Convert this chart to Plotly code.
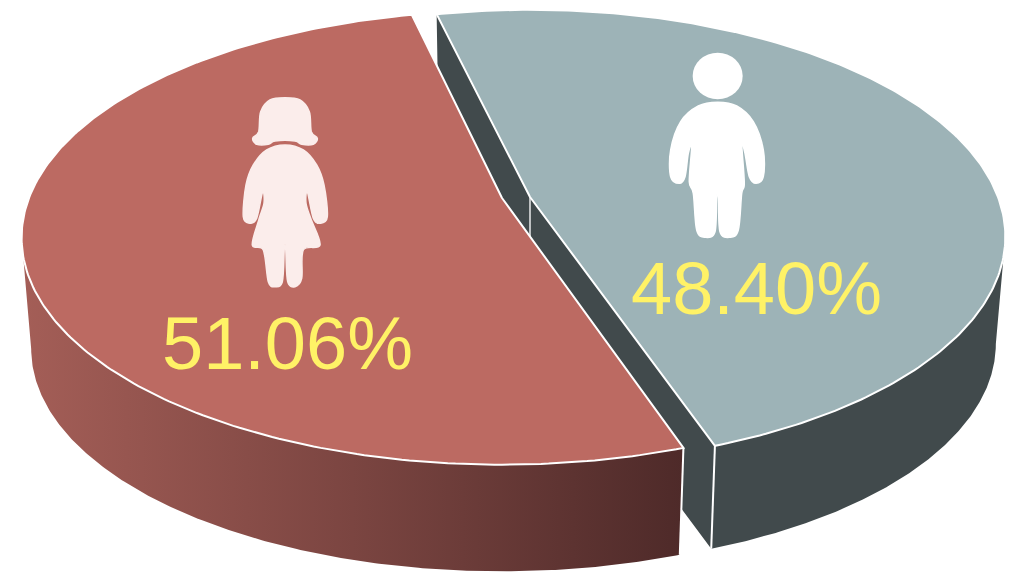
import numpy as np
import plotly.graph_objects as go

# ---- chart data ----
labels = ["Female", "Male"]
shares = [51.06, 48.40]
share_text = ["51.06%", "48.40%"]
face_colors = ["#BC6A62", "#9DB3B7"]

# ---- pseudo-3D projection ----
K, B, S = 0.175, 220, 0.98
FRAME_W, FRAME_H = 1020, 573

def project(theta, c, depth=0):
    """Map polar disc coordinates to the page, theta in degrees from the top, clockwise."""
    cx, cy, A, drop = c
    t = np.radians(theta)
    X, Y = np.sin(t), np.cos(t)
    w = 1 + K * Y
    sx, sy = A * X / w, -B * Y / w
    if depth:
        return cx + S * sx, cy + drop + S * sy
    return cx + sx, cy + sy

def arc(a0, a1, c, depth=0, n=240):
    return project(np.linspace(a0, a1, n), c, depth)

# slice angles come from the shares (clockwise from the top);
# the female slice also takes up the unlabelled remainder of the circle
deg = [v * 3.6 for v in shares]
remainder = 360 - sum(deg)
male_start = -13.5
male_end = male_start + deg[1]
female_end = -12.9
female_start = female_end - deg[0] - remainder
male_c = (530, 197, 468, 108)
female_c = (502, 198, 473, 112)
tangent = np.degrees(np.arcsin(K)) + 90   # silhouette angle

fig = go.Figure()

def poly(x, y, **kw):
    fig.add_trace(go.Scatter(x=list(x), y=list(y), mode="lines", fill="toself",
                             hoverinfo="skip", showlegend=False, **kw))

WALL = "#414A4C"
# male walls
c = male_c
cx, cy = c[0], c[1]
tx, ty = arc(male_start, male_end, c)
mx0, my0 = project(male_start, c)
mb0x, mb0y = project(male_start, c, 1)
mx1, my1 = project(male_end, c)
mb1x, mb1y = project(male_end, c, 1)
ctrb = (cx, cy + c[3])
poly([mx0, cx, mx1, mb1x, ctrb[0], mb0x, mx0], [my0, cy, my1, mb1y, ctrb[1], mb0y, my0],
     fillcolor=WALL, line=dict(color=WALL, width=0))
fx, fy = arc(tangent, male_end, c)
gx, gy = arc(tangent, male_end, c, 1)
poly(np.r_[fx, gx[::-1]], np.r_[fy, gy[::-1]], fillcolor=WALL, line=dict(color=WALL, width=0))
fig.add_trace(go.Scatter(x=[cx, ctrb[0]], y=[cy, ctrb[1]], mode="lines", showlegend=False,
                         hoverinfo="skip", line=dict(color="#E8EAEA", width=1.5)))
fig.add_trace(go.Scatter(x=[mx1, mb1x], y=[my1, mb1y], mode="lines", showlegend=False,
                         hoverinfo="skip", line=dict(color="white", width=2)))
poly(np.r_[cx, tx, cx], np.r_[cy, ty, cy], fillcolor=face_colors[1],
     line=dict(color="white", width=2))

# female walls
c = female_c
cx, cy = c[0], c[1]
a_end = female_start  # end of the slice at the front
fx, fy = arc(-tangent, a_end, c)
gx, gy = arc(-tangent, a_end, c, 1)
fig.add_trace(go.Scatter(
    x=list(np.r_[fx, gx[::-1], fx[0]]), y=list(np.r_[fy, gy[::-1], fy[0]]), mode="lines",
    fill="toself", hoverinfo="skip", showlegend=False, line=dict(width=0, color="#A05C55"),
    fillgradient=dict(type="horizontal",
                      colorscale=[[0, "#A45E57"], [0.5, "#7B4541"], [1, "#4E2A29"]])))
ex, ey = project(a_end, c)
ebx, eby = project(a_end, c, 1)
fig.add_trace(go.Scatter(x=[ex, ebx], y=[ey, eby], mode="lines", showlegend=False,
                         hoverinfo="skip", line=dict(color="white", width=2)))
tx, ty = arc(female_start, female_end, c)
poly(np.r_[cx, tx, cx], np.r_[cy, ty, cy], fillcolor=face_colors[0],
     line=dict(color="white", width=2))

# ---- person icons (decoration) ----
def smooth_path(pts, ox, oy):
    p = np.array(pts, float) / 3 + [ox, oy]
    n = len(p)
    d = f"M{p[0][0]:.1f},{p[0][1]:.1f}"
    for i in range(n):
        p0, p1, p2, p3 = p[i - 1], p[i], p[(i + 1) % n], p[(i + 2) % n]
        c1 = p1 + (p2 - p0) / 6
        c2 = p2 - (p3 - p1) / 6
        d += f"C{c1[0]:.1f},{c1[1]:.1f} {c2[0]:.1f},{c2[1]:.1f} {p2[0]:.1f},{p2[1]:.1f}"
    return d + "Z"

GIRL = "#FBEDEB"
girl_hair = [(195, 38), (240, 45), (268, 80), (274, 140), (292, 160), (280, 178), (245, 178), (225, 168),
             (165, 168), (145, 178), (110, 178), (98, 160), (116, 140), (122, 80), (150, 45)]
girl_body = [(195, 180), (250, 195), (290, 240), (312, 300), (322, 395), (300, 415), (280, 400), (262, 320),
             (258, 355), (272, 400), (300, 480), (250, 495), (245, 580), (225, 605), (203, 590), (197, 490),
             (193, 490), (187, 590), (165, 605), (145, 590), (130, 495), (97, 480), (118, 400), (132, 355),
             (128, 320), (110, 400), (90, 415), (70, 395), (78, 300), (100, 240), (140, 195)]
boy_body = [(203, 187), (260, 198), (310, 245), (340, 330), (340, 410), (318, 430), (298, 410), (285, 340),
            (275, 310), (283, 430), (275, 460), (265, 570), (240, 592), (210, 575), (205, 470), (200, 470),
            (195, 575), (165, 592), (140, 570), (130, 460), (118, 425), (125, 320), (115, 340), (105, 410),
            (88, 430), (62, 410), (62, 330), (92, 245), (145, 198)]
shapes = [
    dict(type="path", path=smooth_path(girl_hair, 220, 85), fillcolor=GIRL, line=dict(color=GIRL, width=1.5)),
    dict(type="path", path=smooth_path(girl_body, 220, 85), fillcolor=GIRL, line=dict(color=GIRL, width=1.5)),
    dict(type="path", path=smooth_path(boy_body, 650, 40), fillcolor="white", line=dict(color="white", width=1.5)),
    dict(type="circle", x0=650 + 128 / 3, x1=650 + 278 / 3, y0=40 + 38 / 3, y1=40 + 178 / 3,
         fillcolor="white", line=dict(width=0)),
]

annotations = [
    dict(x=287, y=343, text=share_text[0], showarrow=False,
         font=dict(family="Liberation Sans", size=74, color="#FFF266")),
    dict(x=756, y=288, text=share_text[1], showarrow=False,
         font=dict(family="Liberation Sans", size=74, color="#FFF266")),
]

fig.update_layout(
    width=FRAME_W, height=FRAME_H, autosize=False,
    margin=dict(l=0, r=0, t=0, b=0),
    paper_bgcolor="white", plot_bgcolor="white", showlegend=False,
    xaxis=dict(range=[0, FRAME_W], visible=False, fixedrange=True),
    yaxis=dict(range=[FRAME_H, 0], visible=False, fixedrange=True),
    shapes=shapes, annotations=annotations,
)
fig.write_html("out.html", config={"displayModeBar": False},
               post_script="document.body.style.margin='0';document.body.style.overflow='hidden';")
